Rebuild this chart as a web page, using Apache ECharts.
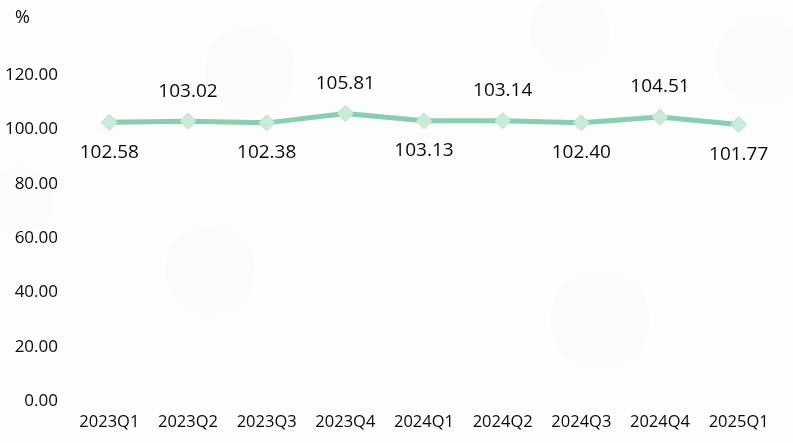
<!DOCTYPE html>
<html>
<head>
<meta charset="utf-8">
<script src="https://cdn.jsdelivr.net/npm/echarts@6/dist/echarts.min.js"></script>
<style>
html,body{margin:0;padding:0;background:#fcfdfc;}
#main{width:793px;height:443px;}
</style>
</head>
<body>
<div id="main"></div>
<script>
var categories = ['2023Q1','2023Q2','2023Q3','2023Q4','2024Q1','2024Q2','2024Q3','2024Q4','2025Q1'];
var values = [102.58,103.02,102.38,105.81,103.13,103.14,102.40,104.51,101.77];
var labelPositions = ['bottom','top','bottom','top','bottom','top','bottom','top','bottom'];
var yTicks = {min:0, max:120, interval:20};

var chart = echarts.init(document.getElementById('main'));
var font = '"Open Sans", "Noto Sans", sans-serif';
chart.setOption({
  backgroundColor: '#fcfdfc',
  textStyle: {fontFamily: font},
  graphic: [
    {type:'circle', shape:{cx:250, cy:70, r:45}, style:{fill:'rgba(200,230,210,0.035)'}, silent:true, z:-10},
    {type:'circle', shape:{cx:570, cy:30, r:40}, style:{fill:'rgba(200,230,210,0.035)'}, silent:true, z:-10},
    {type:'circle', shape:{cx:210, cy:270, r:45}, style:{fill:'rgba(200,230,210,0.03)'}, silent:true, z:-10},
    {type:'circle', shape:{cx:600, cy:320, r:50}, style:{fill:'rgba(200,230,210,0.03)'}, silent:true, z:-10},
    {type:'circle', shape:{cx:20, cy:200, r:35}, style:{fill:'rgba(200,230,210,0.03)'}, silent:true, z:-10},
    {type:'circle', shape:{cx:760, cy:60, r:45}, style:{fill:'rgba(200,230,210,0.03)'}, silent:true, z:-10}
  ],
  grid: {left:70, right:15, top:75, bottom:42, containLabel:false},
  xAxis: {
    type:'category',
    data: categories,
    boundaryGap: true,
    axisLine:{show:false},
    axisTick:{show:false},
    axisLabel:{color:'#0a0a0a', fontSize:16.5, margin:13, interval:0, fontFamily:font}
  },
  yAxis: {
    type:'value',
    min: yTicks.min, max: yTicks.max, interval: yTicks.interval,
    name:'%',
    nameLocation:'end',
    nameGap: 48,
    nameTextStyle:{color:'#0a0a0a', fontSize:18, align:'left', padding:[0,0,0,-55], fontFamily:font},
    axisLine:{show:false},
    axisTick:{show:false},
    splitLine:{show:false},
    axisLabel:{color:'#0a0a0a', fontSize:17, margin:12, formatter:function(v){return v.toFixed(2);}, fontFamily:font}
  },
  series: [{
    type:'line',
    data: values.map(function(v,i){
      return {value:v, label:{position:labelPositions[i]}};
    }),
    symbol:'diamond',
    symbolSize:16,
    itemStyle:{color:'#c9ecd9', borderColor:'#b5e3cb', borderWidth:1},
    lineStyle:{color:'#86d0ad', width:5},
    label:{show:true, color:'#0a0a0a', fontSize:19, distance:12, formatter:function(p){return p.value.toFixed(2);}, fontFamily:font}
  }]
});
</script>
</body>
</html>
